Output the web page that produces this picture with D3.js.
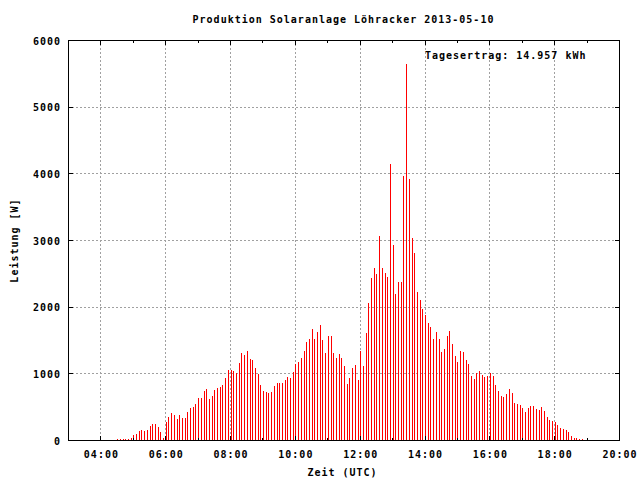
<!DOCTYPE html>
<html>
<head>
<meta charset="utf-8">
<script src="https://cdn.jsdelivr.net/npm/d3@7"></script>
<style>
  html, body { margin: 0; padding: 0; background: #fff; }
  svg { display: block; }
  text { font-family: "DejaVu Sans Mono", monospace; font-weight: bold; font-size: 10px; letter-spacing: 1px; fill: #000; }
</style>
</head>
<body>
<svg id="chart" width="640" height="480"></svg>
<script>
// ---- data ----
const chartTitle = "Produktion Solaranlage Löhracker 2013-05-10";
const yieldText = "Tagesertrag: 14.957 kWh";
const xAxisTitle = "Zeit (UTC)";
const yAxisTitle = "Leistung [W]";

const times = [
  "04:31","04:36","04:41","04:46","04:51","04:56",
  "05:01","05:06","05:11","05:16","05:21","05:26","05:31","05:36","05:41","05:46","05:51","05:56",
  "06:01","06:06","06:11","06:16","06:21","06:26","06:31","06:36","06:41","06:46","06:51","06:56",
  "07:01","07:06","07:11","07:16","07:21","07:26","07:31","07:36","07:41","07:46","07:51","07:56",
  "08:01","08:06","08:11","08:16","08:21","08:26","08:31","08:36","08:41","08:46","08:51","08:56",
  "09:01","09:06","09:11","09:16","09:21","09:26","09:31","09:36","09:41","09:46","09:51","09:56",
  "10:01","10:06","10:11","10:16","10:21","10:26","10:31","10:36","10:41","10:46","10:51","10:56",
  "11:01","11:06","11:11","11:16","11:21","11:26","11:31","11:36","11:41","11:46","11:51","11:56",
  "12:01","12:06","12:11","12:16","12:21","12:26","12:31","12:36","12:41","12:46","12:51","12:56",
  "13:01","13:06","13:11","13:16","13:21","13:26","13:31","13:36","13:41","13:46","13:51","13:56",
  "14:01","14:06","14:11","14:16","14:21","14:26","14:31","14:36","14:41","14:46","14:51","14:56",
  "15:01","15:06","15:11","15:16","15:21","15:26","15:31","15:36","15:41","15:46","15:51","15:56",
  "16:01","16:06","16:11","16:16","16:21","16:26","16:31","16:36","16:41","16:46","16:51","16:56",
  "17:01","17:06","17:11","17:16","17:21","17:26","17:31","17:36","17:41","17:46","17:51","17:56",
  "18:01","18:06","18:11","18:16","18:21","18:26","18:31","18:36","18:41","18:46","18:51"
];

const power = [
  15,15,15,15,15,35,75,90,135,150,135,150,210,240,240,195,120,30,270,345,
  405,375,315,375,330,330,420,480,495,540,630,630,735,765,615,660,750,780,795,825,
  930,1050,1050,1035,1005,1155,1305,1275,1335,1215,
  1200,1080,990,825,735,720,705,720,810,855,855,855,900,945,930,1020,1140,1170,1230,1335,
  1470,1515,1665,1515,1620,1725,1500,1305,1560,1560,1305,1230,1290,1230,1110,840,930,1080,1125,900,
  1335,1110,1605,2055,
  2430,2580,2490,3060,2580,2505,2445,4140,2925,2190,2370,2370,3960,5640,3915,3030,2805,2220,2100,1965,
  1875,1755,1695,1515,1620,1515,
  1320,1365,1560,1635,1440,1260,1170,1335,1320,1200,1140,960,915,1005,1035,975,945,960,1005,960,
  825,735,660,645,690,765,705,555,540,525,
  480,420,480,510,510,465,450,495,435,345,300,285,270,225,180,165,150,120,60,30,30,15,15
];

const xTickLabels = ["04:00","06:00","08:00","10:00","12:00","14:00","16:00","18:00","20:00"];
const xMinorTicks = ["05:00","07:00","09:00","11:00","13:00","15:00","17:00","19:00"];
const xDomain = ["03:00","20:00"];
const yTicks = [0,1000,2000,3000,4000,5000,6000];

// ---- drawing ----
const toMin = s => { const [h, m] = s.split(":").map(Number); return h * 60 + m; };
const svg = d3.select("#chart");
const L = 68, R = 619, T = 40, B = 440;

const x = d3.scaleLinear().domain(xDomain.map(toMin)).range([L, R]);
const y = d3.scaleLinear().domain([0, 6000]).range([B, T]);
const px = v => Math.round(v) + 0.5;

svg.append("rect").attr("width", 640).attr("height", 480).attr("fill", "#fff");

// grid
const grid = svg.append("g").attr("stroke", "#a0a0a0").attr("stroke-width", 1)
  .attr("stroke-dasharray", "2,2").attr("shape-rendering", "crispEdges");
grid.selectAll("line.vx").data(xTickLabels.filter(t => x(toMin(t)) < R - 1)).join("line")
  .attr("x1", d => px(x(toMin(d)))).attr("x2", d => px(x(toMin(d))))
  .attr("y1", T).attr("y2", B);
grid.selectAll("line.hy").data(yTicks.filter(v => v > 0 && v < 6000)).join("line")
  .attr("x1", L).attr("x2", R)
  .attr("y1", d => px(y(d))).attr("y2", d => px(y(d)));

// impulses
svg.append("g").attr("stroke", "#ff0000").attr("stroke-width", 1).attr("shape-rendering", "crispEdges")
  .selectAll("line").data(power.map((v, i) => ({ t: times[i], v }))).join("line")
  .attr("x1", d => px(x(toMin(d.t)))).attr("x2", d => px(x(toMin(d.t))))
  .attr("y1", px(y(0))).attr("y2", d => Math.round(y(d.v)));

// border
svg.append("rect").attr("x", L + 0.5).attr("y", T + 0.5).attr("width", R - L).attr("height", B - T)
  .attr("fill", "none").attr("stroke", "#000").attr("stroke-width", 1).attr("shape-rendering", "crispEdges");

// ticks
const ticks = svg.append("g").attr("stroke", "#000").attr("stroke-width", 1).attr("shape-rendering", "crispEdges");
xTickLabels.forEach(t => {
  const xx = px(x(toMin(t)));
  ticks.append("line").attr("x1", xx).attr("x2", xx).attr("y1", B + 0.5).attr("y2", B - 4);
  ticks.append("line").attr("x1", xx).attr("x2", xx).attr("y1", T + 0.5).attr("y2", T + 5);
});
xMinorTicks.forEach(t => {
  const xx = px(x(toMin(t)));
  ticks.append("line").attr("x1", xx).attr("x2", xx).attr("y1", B + 0.5).attr("y2", B - 2);
  ticks.append("line").attr("x1", xx).attr("x2", xx).attr("y1", T + 0.5).attr("y2", T + 3);
});
yTicks.forEach(v => {
  const yy = px(y(v));
  ticks.append("line").attr("x1", L + 0.5).attr("x2", L + 5).attr("y1", yy).attr("y2", yy);
  ticks.append("line").attr("x1", R + 0.5).attr("x2", R - 4).attr("y1", yy).attr("y2", yy);
});

// tick labels
svg.append("g").selectAll("text").data(yTicks).join("text")
  .attr("x", 61).attr("y", d => y(d) + 4.5).attr("text-anchor", "end").text(d => d);
svg.append("g").selectAll("text").data(xTickLabels).join("text")
  .attr("x", d => x(toMin(d)) + 1).attr("y", 458).attr("text-anchor", "middle").text(d => d);

// titles
svg.append("text").attr("x", 343.5).attr("y", 22.5).attr("text-anchor", "middle").text(chartTitle);
svg.append("text").attr("x", 342.5).attr("y", 476).attr("text-anchor", "middle").text(xAxisTitle);
svg.append("text").attr("transform", "translate(17.5,240.5) rotate(-90)").attr("text-anchor", "middle").text(yAxisTitle);
svg.append("text").attr("x", 425).attr("y", 58.5).attr("text-anchor", "start").text(yieldText);
</script>
</body>
</html>
